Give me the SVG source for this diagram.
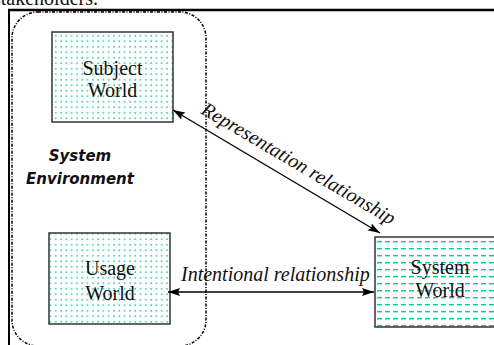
<svg xmlns="http://www.w3.org/2000/svg" width="494" height="345" viewBox="0 0 494 345">
<style>
.box{stroke:#333;stroke-width:1.5}
.lbl{font-family:"Liberation Serif",serif;font-size:20px;fill:#111;text-anchor:middle}
.it{font-family:"Liberation Serif",serif;font-size:20px;font-style:italic;fill:#111}
.env{font-family:"DejaVu Sans",sans-serif;font-size:15px;font-weight:bold;font-style:italic;fill:#111;text-anchor:middle}
.conn{stroke:#000;stroke-width:1.3;fill:none}
</style>
<defs>
<pattern id="dots" width="5.3" height="5.5" patternUnits="userSpaceOnUse">
<rect width="5.3" height="5.5" fill="#fff"/>
<rect x="2" y="2" width="1.5" height="1.5" fill="#19c8a0"/>
</pattern>
<pattern id="dashes" width="8" height="7" patternUnits="userSpaceOnUse">
<rect width="8" height="7" fill="#fff"/>
<rect x="1" y="3" width="5" height="1.4" fill="#00c896"/>
</pattern>
<marker id="ah" viewBox="0 0 12 8" refX="12" refY="4" markerWidth="12" markerHeight="8" markerUnits="userSpaceOnUse" orient="auto-start-reverse">
<path d="M0,0 L12,4 L0,8 L2,4 Z" fill="#000"/>
</marker>
</defs>
<text x="-7" y="5" style="font-family:'Liberation Serif',serif;font-size:20px;fill:#111">stakeholders.</text>
<line x1="8" y1="10" x2="494" y2="10" stroke="#000" stroke-width="2.5"/>
<line x1="9" y1="10" x2="9" y2="345" stroke="#000" stroke-width="2"/>
<g id="system-environment">
<rect x="12" y="12" width="194" height="334" rx="26" ry="26" fill="none" stroke="#000" stroke-width="1.5" stroke-dasharray="3 1.5 1 1.5"/>
<text class="env" x="80" y="161">System</text>
<text class="env" x="80" y="184">Environment</text>
</g>
<g id="subject-world">
<rect class="box" x="52" y="32" width="121" height="90" fill="url(#dots)"/>
<text class="lbl" x="112.5" y="75">Subject</text>
<text class="lbl" x="112.5" y="97">World</text>
</g>
<g id="usage-world">
<rect class="box" x="49" y="233" width="121" height="91" fill="url(#dots)"/>
<text class="lbl" x="110" y="275">Usage</text>
<text class="lbl" x="110" y="300">World</text>
</g>
<g id="system-world">
<rect class="box" x="375" y="237" width="130" height="90" fill="url(#dashes)"/>
<text class="lbl" x="440" y="274">System</text>
<text class="lbl" x="440" y="297">World</text>
</g>
<g id="connectors">
<line class="conn" x1="173" y1="110" x2="380" y2="233" marker-start="url(#ah)" marker-end="url(#ah)"/>
<text class="it" transform="translate(200 113) rotate(30.5)">Representation relationship</text>
<line class="conn" x1="168" y1="292" x2="374" y2="292" marker-start="url(#ah)" marker-end="url(#ah)"/>
<text class="it" x="181" y="281">Intentional relationship</text>
</g>
</svg>
